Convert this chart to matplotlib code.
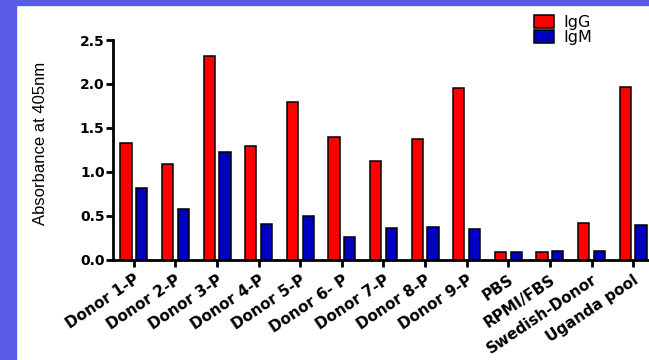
import numpy as np
import matplotlib.pyplot as plt
from matplotlib.patches import Rectangle

samples = ["Donor 1-P", "Donor 2-P", "Donor 3-P", "Donor 4-P", "Donor 5-P",
           "Donor 6- P", "Donor 7-P", "Donor 8-P", "Donor 9-P", "PBS",
           "RPMI/FBS", "Swedish-Donor", "Uganda pool"]
igg = [1.33, 1.09, 2.32, 1.29, 1.79, 1.39, 1.12, 1.37, 1.95, 0.08, 0.08, 0.42, 1.97]
igm = [0.82, 0.57, 1.22, 0.41, 0.49, 0.26, 0.36, 0.37, 0.35, 0.08, 0.10, 0.10, 0.39]
yticks = [0.0, 0.5, 1.0, 1.5, 2.0, 2.5]

plt.rcParams['font.family'] = ['DejaVu Sans']

fig = plt.figure(figsize=(6.49, 3.6), dpi=100)
# coloured frame on the left and top edges
fig.patches.append(Rectangle((0, 0), 16 / 649, 1, transform=fig.transFigure,
                             color='#575be6', zorder=0))
fig.patches.append(Rectangle((0, 1 - 5 / 360), 1, 5 / 360, transform=fig.transFigure,
                             color='#575be6', zorder=0))

ax = fig.add_axes([113 / 649, 100.5 / 360, 1 - 113 / 649, 219.5 / 360])
x = np.arange(len(samples))
w = 0.27
ax.bar(x - 0.19, igg, w, color='#ff0000', edgecolor='black', linewidth=1.1, label='IgG')
ax.bar(x + 0.19, igm, w, color='#0000c0', edgecolor='black', linewidth=1.1, label='IgM')

ax.set_xlim(-0.5, 12.38)
ax.set_ylim(0, 2.5)
ax.set_yticks(yticks)
ax.set_yticklabels(["%.1f" % t for t in yticks], fontsize=10, fontweight='bold')
ax.set_xticks(x)
ax.set_xticklabels(samples, rotation=34, ha='right', rotation_mode='anchor',
                   fontsize=11, fontweight='bold')

for s in ['top', 'right']:
    ax.spines[s].set_visible(False)
for s in ['left', 'bottom']:
    ax.spines[s].set_linewidth(2)
ax.tick_params(axis='both', width=2, length=5, direction='out', pad=1)
ax.tick_params(axis='x', pad=4)
ax.set_ylabel("Absorbance at 405nm", fontsize=12, family='Liberation Sans')
ax.yaxis.set_label_coords(-0.121, 0.53)

ax.legend(loc='upper left', bbox_to_anchor=(519 / 649, 1.0), bbox_transform=fig.transFigure,
          frameon=False, fontsize=11.5, handlelength=1.25, handleheight=0.85,
          labelspacing=0.0, handletextpad=0.55, borderaxespad=0.55)

fig.savefig('out.png', dpi=100)
